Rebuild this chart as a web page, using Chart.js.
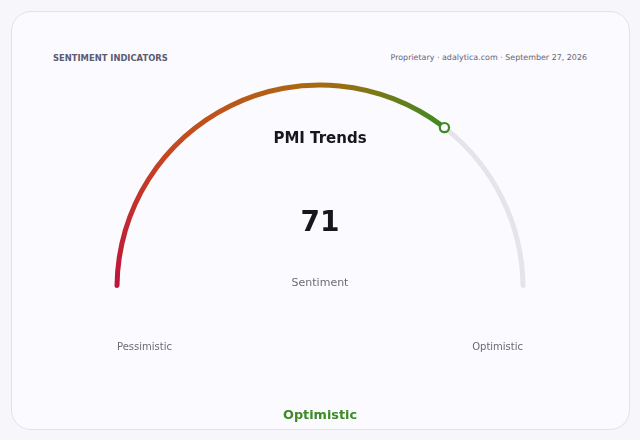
<!DOCTYPE html>
<html>
<head>
<meta charset="utf-8">
<script src="https://cdn.jsdelivr.net/npm/chart.js@4"></script>
<style>
  html, body {
    margin: 0;
    width: 640px;
    height: 440px;
    background: #f6f6fb;
    font-family: "DejaVu Sans", sans-serif;
    overflow: hidden;
  }
  .card {
    position: absolute;
    left: 10.5px;
    top: 10.5px;
    width: 617px;
    height: 417px;
    border: 1px solid #e2e2ec;
    border-radius: 20px;
    background: #fafaff;
  }
  .kicker {
    position: absolute;
    left: 53px;
    top: 51.7px;
    font-size: 8.4px;
    line-height: 12px;
    font-weight: bold;
    color: #5c5c70;
    white-space: nowrap;
  }
  .source {
    position: absolute;
    right: 53px;
    top: 52px;
    font-size: 7.95px;
    line-height: 12px;
    color: #646474;
    white-space: nowrap;
  }
  #gauge {
    position: absolute;
    left: 0;
    top: 0;
  }
</style>
</head>
<body>
<div class="card"></div>
<div class="kicker">SENTIMENT INDICATORS</div>
<div class="source">Proprietary · adalytica.com · September 27, 2026</div>
<canvas id="gauge" width="640" height="440"></canvas>
<script>
const segmentLabels = ["Sentiment", "Remaining"];
const segmentValues = [71, 29];
const endLabels = ["Pessimistic", "Optimistic"];
const statusLabel = ["Optimistic"];
const chartTitle = "PMI Trends";
const valueCaption = "Sentiment";

const gradientStops = [
  [0, "#bd133d"],
  [25, "#c64a1f"],
  [50, "#a86a0e"],
  [71, "#3d8a22"],
];
const trackColor = "#e4e4ea";
const markerColor = "#3d8a25";

const total = segmentValues.reduce((a, b) => a + b, 0);

function arcGradient(context) {
  const chart = context.chart;
  const area = chart.chartArea;
  if (!area) {
    return gradientStops[0][1];
  }
  const cx = (area.left + area.right) / 2;
  const cy = area.bottom;
  const g = chart.ctx.createConicGradient(Math.PI, cx, cy);
  for (const [v, color] of gradientStops) {
    g.addColorStop(v / total / 2, color);
  }
  g.addColorStop(1, gradientStops[gradientStops.length - 1][1]);
  return g;
}

const gaugeText = {
  id: "gaugeText",
  afterDatasetsDraw(chart) {
    const arc = chart.getDatasetMeta(0).data[0];
    if (!arc) {
      return;
    }
    const { ctx } = chart;
    const mid = (arc.outerRadius + arc.innerRadius) / 2;

    // marker at the end of the value segment
    const mx = arc.x + mid * Math.cos(arc.endAngle);
    const my = arc.y + mid * Math.sin(arc.endAngle);
    ctx.save();
    ctx.beginPath();
    ctx.arc(mx, my, 4.6, 0, Math.PI * 2);
    ctx.fillStyle = "#fafaff";
    ctx.fill();
    ctx.lineWidth = 2.2;
    ctx.strokeStyle = markerColor;
    ctx.stroke();

    ctx.textBaseline = "alphabetic";
    ctx.textAlign = "center";

    ctx.font = "bold 15px 'DejaVu Sans'";
    ctx.fillStyle = "#16161e";
    ctx.fillText(chartTitle, arc.x, arc.y - 145.5);

    ctx.font = "bold 28px 'DejaVu Sans'";
    ctx.fillStyle = "#16161e";
    ctx.fillText(String(segmentValues[0]), arc.x, arc.y - 56.6);

    ctx.font = "11px 'DejaVu Sans'";
    ctx.fillStyle = "#6c6c7a";
    ctx.fillText(valueCaption, arc.x, arc.y - 2);

    ctx.font = "10px 'DejaVu Sans'";
    ctx.fillStyle = "#6a6a78";
    ctx.textAlign = "left";
    ctx.fillText(endLabels[0], arc.x - mid, arc.y + 61.7);
    ctx.textAlign = "right";
    ctx.fillText(endLabels[1], arc.x + mid, arc.y + 61.7);

    ctx.font = "bold 12.8px 'DejaVu Sans'";
    ctx.fillStyle = "#3d8a27";
    ctx.textAlign = "center";
    ctx.fillText(statusLabel[0], arc.x, arc.y + 130.6);
    ctx.restore();
  },
};

new Chart(document.getElementById("gauge"), {
  type: "doughnut",
  data: {
    labels: segmentLabels,
    datasets: [
      {
        data: segmentValues,
        backgroundColor: (context) =>
          context.dataIndex === 0 ? arcGradient(context) : trackColor,
        borderWidth: 0,
        borderRadius: 3,
      },
    ],
  },
  options: {
    responsive: false,
    animation: false,
    rotation: -90,
    circumference: 180,
    cutout: "97.57%",
    layout: {
      padding: { top: 82.5, bottom: 152, left: 0, right: 0 },
    },
    plugins: {
      legend: { display: false },
      tooltip: { enabled: false },
    },
    events: [],
  },
  plugins: [gaugeText],
});
</script>
</body>
</html>
